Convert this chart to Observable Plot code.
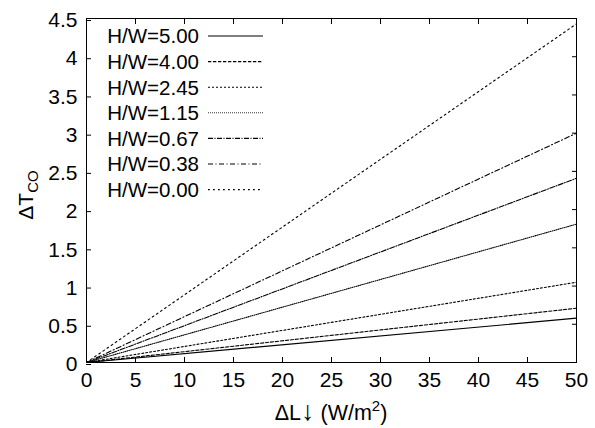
<!DOCTYPE html>
<html><head><meta charset="utf-8">
<script src="https://cdn.jsdelivr.net/npm/d3@7"></script>
<script src="https://cdn.jsdelivr.net/npm/@observablehq/plot@0.6"></script>
<style>
body{margin:0;background:#fff}
#chart{position:relative;width:595px;height:428px}
</style>
</head><body><div id="chart"></div>
<script>
// Data
const ratios = ["5.00", "4.00", "2.45", "1.15", "0.67", "0.38", "0.00"];
const xStart = 0;
const xEnd = 50;
const yAtStart = [0, 0, 0, 0, 0, 0, 0];
const yAtEnd = [0.58, 0.71, 1.05, 1.81, 2.41, 3.00, 4.43];
const xTicks = [0, 5, 10, 15, 20, 25, 30, 35, 40, 45, 50];
const yTicks = [0, 0.5, 1, 1.5, 2, 2.5, 3, 3.5, 4, 4.5];

// Styles
const dashes = [null, "3.3,1.7", "2,2", "0.8,1.2", "5,1.5,1,1.5", "5,2.5,1,2.5", "1.8,3.2"];
const font = "'Liberation Sans', Arial, Helvetica, sans-serif";

const marks = [];
ratios.forEach((r, i) => {
  const pts = [{x: xStart, y: yAtStart[i]}, {x: xEnd, y: yAtEnd[i]}];
  const opts = {x: "x", y: "y", stroke: "black", strokeWidth: 1.1};
  if (dashes[i]) opts.strokeDasharray = dashes[i];
  marks.push(Plot.line(pts, opts));
});
marks.push(Plot.frame({stroke: "black", strokeWidth: 1}));
marks.push(Plot.axisY({ticks: yTicks, anchor: "left", tickSize: -5, tickPadding: 14, tickFormat: d => String(d), fontSize: 21, dy: 2, label: null}));
marks.push(Plot.axisY({ticks: yTicks, anchor: "right", tickSize: -5, tickFormat: () => "", label: null}));
marks.push(Plot.axisX({ticks: xTicks, anchor: "bottom", tickSize: -5, tickPadding: 15, tickFormat: d => String(d), fontSize: 21, label: null}));
marks.push(Plot.axisX({ticks: xTicks, anchor: "top", tickSize: -5, tickFormat: () => "", label: null}));

const plot = Plot.plot({
  width: 595,
  height: 428,
  marginLeft: 86,
  marginRight: 19,
  marginTop: 18,
  marginBottom: 66,
  style: {fontFamily: font, fontSize: "21px", color: "black", background: "white"},
  x: {domain: [0, 50], axis: null},
  y: {domain: [0, 4.5], axis: null},
  marks
});
document.getElementById("chart").appendChild(plot);

const svg = d3.select(plot);
// Legend
const lg = svg.append("g").attr("font-family", font).attr("font-size", 20.5);
ratios.forEach((r, i) => {
  const y = 36 + 25.6 * i;
  lg.append("text").attr("x", 199).attr("y", y).attr("dy", "0.36em")
    .attr("text-anchor", "end").attr("fill", "black").text("H/W=" + r);
  const ln = lg.append("line").attr("x1", 208).attr("x2", 263).attr("y1", y).attr("y2", y)
    .attr("stroke", "black").attr("stroke-width", 1.1);
  if (dashes[i]) ln.attr("stroke-dasharray", dashes[i]);
});
// Y title
const yt = svg.append("text").attr("transform", "translate(33,195) rotate(-90)")
  .attr("text-anchor", "middle").attr("font-family", font).attr("font-size", 21).attr("fill", "black");
yt.append("tspan").text("\u0394T");
yt.append("tspan").attr("font-size", 15).attr("dy", 5).text("CO");
// X title
const xt = svg.append("text").attr("x", 331).attr("y", 420)
  .attr("text-anchor", "middle").attr("font-family", font).attr("font-size", 21.5).attr("fill", "black");
xt.append("tspan").text("\u0394L");
xt.append("tspan").attr("font-size", 27).text("\u2193");
xt.append("tspan").text(" (W/m");
xt.append("tspan").attr("font-size", 15).attr("dy", -9).text("2");
xt.append("tspan").attr("dy", 9).text(")");
</script>
</body></html>
